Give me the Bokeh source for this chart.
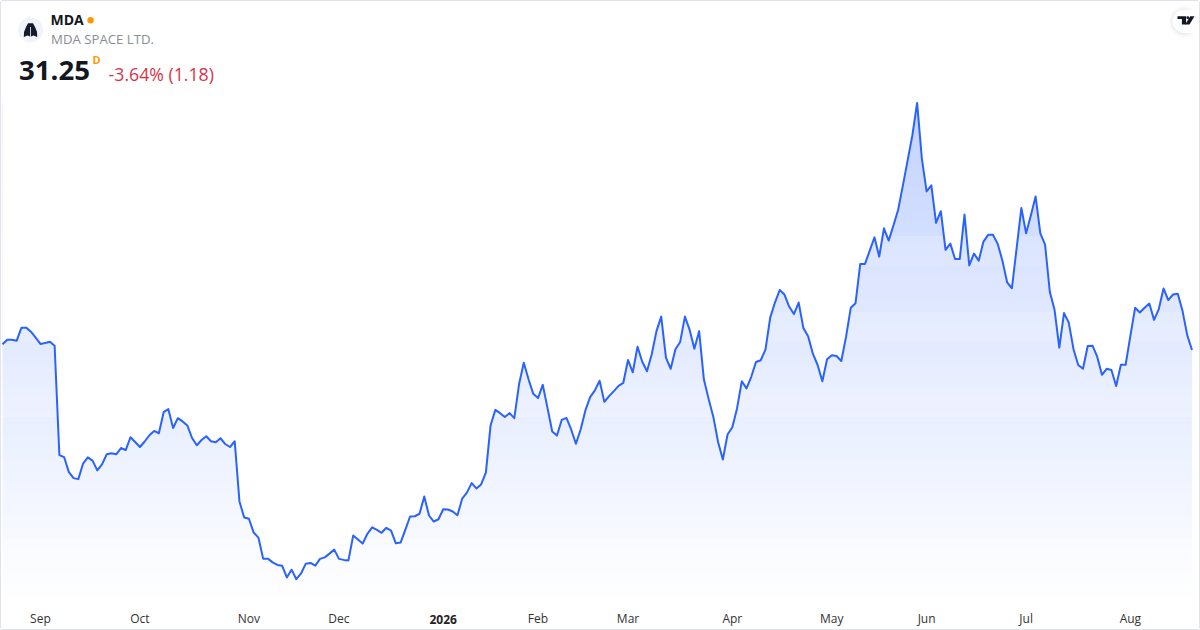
import numpy as np
from bokeh.plotting import figure
from bokeh.models import Label, FixedTicker, Range1d, LinearAxis
from bokeh.embed import file_html
from bokeh.resources import INLINE

ticker = "MDA"
company = "MDA SPACE LTD."
last_price = "31.25"
change_text = "-3.64% (1.18)"

prices = [
 31.71,32.07,32.07,31.99,33.03,33.03,32.71,32.23,31.73,31.81,31.91,31.59,22.87,22.71,21.51,21.03,20.95,22.19,22.69,22.43,
 21.65,22.13,22.93,23.01,22.93,23.43,23.27,24.29,23.91,23.51,23.95,24.45,24.79,24.61,26.29,26.53,25.03,25.81,25.55,25.23,
 24.23,23.65,24.07,24.37,23.97,23.89,24.21,23.75,23.51,23.97,19.17,17.89,17.79,16.69,16.29,14.61,14.61,14.31,14.11,14.05,
 13.11,13.73,12.97,13.43,14.21,14.27,14.05,14.59,14.71,15.01,15.33,14.59,14.51,14.47,16.45,16.13,15.81,16.59,17.11,16.91,
 16.67,17.07,16.85,15.83,15.89,16.91,17.97,17.99,18.19,19.57,18.05,17.57,17.75,18.55,18.53,18.37,18.07,19.39,19.87,20.63,
 20.21,20.53,21.47,25.25,26.47,26.21,25.91,26.21,25.81,28.51,30.23,28.91,27.75,27.41,28.47,26.63,24.75,24.43,25.67,25.83,
 24.91,23.77,24.91,26.43,27.49,28.03,28.79,27.11,27.57,27.97,28.39,28.63,30.45,29.47,31.51,30.31,29.55,30.91,32.75,33.91,
 30.63,29.75,31.31,31.89,33.91,32.85,31.35,32.75,28.91,27.35,25.91,23.91,22.51,24.51,25.09,26.59,28.75,28.19,29.11,30.29,
 30.43,31.27,33.83,35.03,36.03,35.67,34.71,34.11,35.03,32.99,32.35,30.95,30.05,28.75,30.51,30.83,30.77,30.37,32.29,34.61,
 34.97,38.11,38.11,39.17,40.23,38.69,40.95,39.97,41.17,42.43,44.37,46.37,48.37,50.95,46.51,43.89,44.37,41.39,42.31,39.23,
 39.73,38.51,38.51,42.05,37.99,38.93,38.37,39.89,40.43,40.43,39.71,38.37,36.63,36.17,39.37,42.57,40.55,41.97,43.49,40.55,
 39.65,35.89,34.45,31.43,34.19,33.43,31.31,30.05,29.75,31.57,31.59,30.71,29.27,29.75,29.65,28.37,30.07,30.07,32.37,34.61,
 34.23,34.61,34.95,33.65,34.51,36.15,35.23,35.67,35.73,34.37,32.43,31.25]

tick_index = [8, 29, 52, 71, 93, 113, 132, 154, 175, 195, 216, 238]
tick_labels = ["Sep", "Oct", "Nov", "Dec", "2026", "Feb", "Mar", "Apr", "May", "Jun", "Jul", "Aug"]
bold_labels = ["2026"]

idx = np.arange(len(prices))
PX, P0, PY = 4.735, 3.0, 0.08
X = lambda px: (np.asarray(px, float) - P0) / PX      # layout pixel -> session index
Y = lambda py: 59.17 - PY * np.asarray(py, float)     # layout pixel -> price

BOTTOM = 604
p = figure(width=1198, height=628, output_backend="svg", toolbar_location=None,
           x_range=Range1d(float(X(2)), float(X(1201))), y_range=Range1d(float(Y(BOTTOM + 0.7)), float(Y(1.7))),
           min_border=0, min_border_bottom=629 - BOTTOM, min_border_left=0, min_border_right=0, min_border_top=0,
           background_fill_color="white", border_fill_color="white", outline_line_color=None)
p.styles = {"border": "1px solid #e0e3eb", "border-radius": "3px", "box-sizing": "content-box", "overflow": "hidden"}
p.grid.visible = False
p.yaxis.visible = False

# gradient under the curve: opaque 1-px bands, then white above the curve
band_edges = np.arange(float(Y(BOTTOM + 0.7)), max(prices) + PY, PY)
t = np.clip((band_edges - float(Y(600))) / (max(prices) - float(Y(600))), 0, 1)
alpha = 0.28 * t
cols = ["#%02x%02x%02x" % (round(255 - 214 * a), round(255 - 157 * a), 255) for a in alpha]
p.quad(left=idx[0], right=idx[-1], bottom=band_edges, top=band_edges + PY * 1.15, fill_color=cols, line_color=None)
p.varea(x=idx, y1=prices, y2=float(Y(0)), fill_color="white")
p.line(idx, prices, line_color="#2962ff", line_width=2, line_join="round")

def style_axis(a, color, bold, standoff):
    a.axis_line_color = None
    a.major_tick_line_color = None
    a.minor_tick_line_color = None
    a.major_tick_out = 0
    a.major_tick_in = 0
    a.minor_tick_out = 0
    a.minor_tick_in = 0
    a.major_label_text_font = "Open Sans"
    a.major_label_text_font_size = "12px"
    a.major_label_text_color = color
    a.major_label_text_font_style = "bold" if bold else "normal"
    a.major_label_standoff = standoff

ax = p.xaxis[0]
ax.ticker = FixedTicker(ticks=[i for i, l in zip(tick_index, tick_labels) if l not in bold_labels])
ax.major_label_overrides = {i: l for i, l in zip(tick_index, tick_labels) if l not in bold_labels}
style_axis(ax, "#333333", False, 3)

ax2 = LinearAxis(ticker=FixedTicker(ticks=[i for i, l in zip(tick_index, tick_labels) if l in bold_labels]),
                 major_label_overrides={i: l for i, l in zip(tick_index, tick_labels) if l in bold_labels})
style_axis(ax2, "#222222", True, -15)
p.add_layout(ax2, "below")

def txt(px, py, s, size, color, style="normal"):
    p.add_layout(Label(x=float(X(px)), y=float(Y(py)), text=s, text_font="Open Sans", text_font_size=size,
                       text_font_style=style, text_color=color, text_align="left", text_baseline="middle"))

txt(51, 19.5, ticker, "14px", "#131722", "bold")
txt(51.5, 39.5, company, "13.2px", "#8a8d94")
txt(19.5, 70.5, last_price, "27.6px", "#131722", "bold")
txt(93, 60, "D", "11px", "#ff9800", "bold")
txt(109, 73.5, change_text, "17.7px", "#d9324a")

# status dot and logos
p.scatter([float(X(91))], [float(Y(20.5))], size=6.5, fill_color="#ff9800", line_color=None)
p.scatter([float(X(31))], [float(Y(30))], size=25, fill_color="#f0f3fa", line_color=None)
lung = [(28.5, 23.5), (33.5, 23.5), (35.5, 27), (37.5, 32), (37.7, 37), (34, 35.7), (31.4, 36.5), (31.4, 27),
        (30.6, 27), (30.6, 36.5), (28, 35.7), (24.3, 37), (24.5, 32), (26.5, 27)]
xs, ys = zip(*lung)
p.patch(X(xs), Y(ys), fill_color="#131b2b", line_color=None)

for r, a in ((32, 0.015), (29, 0.02), (26, 0.03)):
    p.scatter([float(X(1184))], [float(Y(22))], size=r, fill_color="#000000", fill_alpha=a, line_color=None)
p.quad(left=float(X(1184)), right=float(X(1201)), bottom=float(Y(33)), top=float(Y(10)), fill_color="white", line_color=None)
p.scatter([float(X(1183.5))], [float(Y(21.5))], size=23, fill_color="white", line_color=None)
tv_shapes = [
    [(1177, 16.4), (1185.6, 16.4), (1185.6, 24.7), (1181.4, 24.7), (1181.4, 19.2), (1177, 19.2)],
    [(1189.7, 16.4), (1194, 16.4), (1189, 24.7), (1184.7, 24.7)],
]
for s in tv_shapes:
    xs, ys = zip(*s)
    p.patch(X(xs), Y(ys), fill_color="#131722", line_color=None)
p.scatter([float(X(1187.3))], [float(Y(17.8))], size=2.8, fill_color="#131722", line_color=None)

open("out.html", "w").write(file_html(p, INLINE))
